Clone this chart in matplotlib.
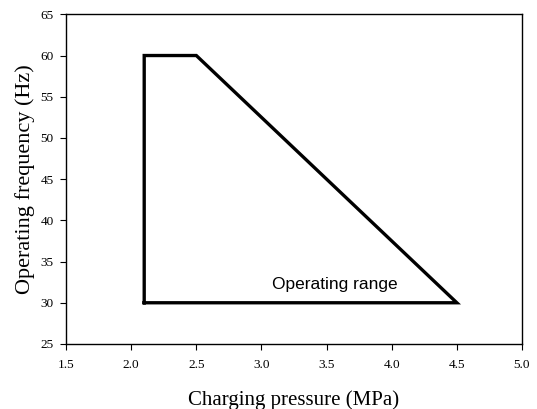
import matplotlib
matplotlib.use("Agg")
from matplotlib import pyplot as plt

# operating envelope corners (charging pressure MPa, frequency Hz)
pressure = [2.1, 2.1, 2.5, 4.5, 2.1]
frequency = [30, 60, 60, 30, 30]

x_ticks = [1.5, 2.0, 2.5, 3.0, 3.5, 4.0, 4.5, 5.0]
y_ticks = [25, 30, 35, 40, 45, 50, 55, 60, 65]

plt.rcParams['font.family'] = 'Liberation Serif'

fig = plt.figure(figsize=(5.37, 4.09), dpi=100)
ax = fig.add_axes([0.123, 0.159, 0.849, 0.806])

ax.plot(pressure, frequency, color='black', lw=2.4, solid_joinstyle='miter')
ax.text(3.56, 32.2, "Operating range", fontsize=12.5, family='Liberation Sans',
        ha='center', va='center')

ax.set_xlim(1.5, 5.0)
ax.set_ylim(25, 65)
ax.set_xticks(x_ticks)
ax.set_xticklabels([f"{v:.1f}" for v in x_ticks])
ax.set_yticks(y_ticks)
ax.tick_params(direction='out', length=4, labelsize=9.5, width=0.8)
ax.tick_params(axis='x', pad=7)
ax.tick_params(axis='y', pad=5)
for s in ax.spines.values():
    s.set_linewidth(1.0)

ax.set_xlabel("Charging pressure (MPa)", fontsize=15, labelpad=14)
ax.set_ylabel("Operating frequency (Hz)", fontsize=16, labelpad=4)

fig.savefig("out.png", dpi=100)
